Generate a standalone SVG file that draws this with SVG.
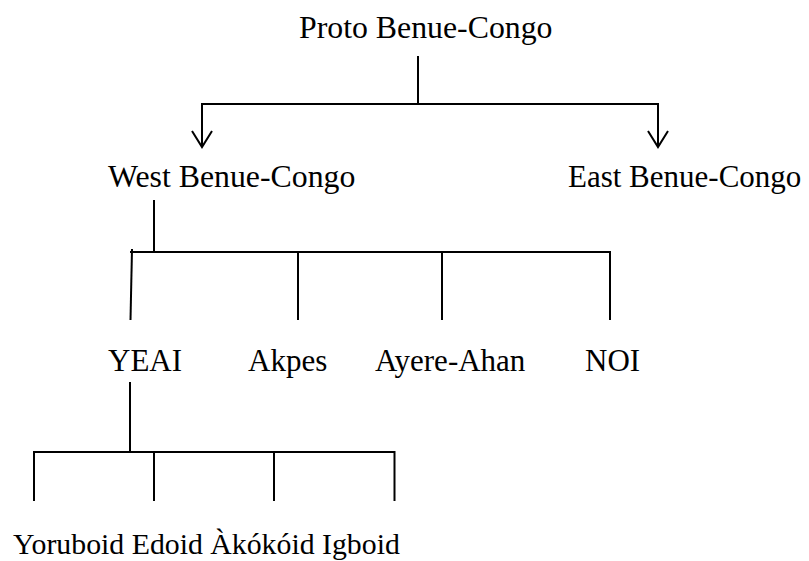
<svg xmlns="http://www.w3.org/2000/svg" width="809" height="561" viewBox="0 0 809 561">
<defs>
<style>
text{font-family:"Liberation Serif","Times New Roman",serif;font-size:31px;fill:#000}
.big{font-size:31.8px}
.sm{font-size:29.8px}
.ln{stroke:#000;stroke-width:2;fill:none}
</style>
</defs>
<rect width="809" height="561" fill="#fff"/>
<g id="connectors" class="ln">
<line x1="418" y1="56" x2="418" y2="104"/>
<line x1="201" y1="104" x2="659" y2="104"/>
<line x1="202" y1="103" x2="202" y2="147"/>
<path d="M192,131 L202,147 L212,131"/>
<line x1="658" y1="103" x2="658" y2="147"/>
<path d="M648,131 L658,147 L668,131"/>
<line x1="154" y1="200" x2="154" y2="253"/>
<line x1="130" y1="252" x2="611" y2="252"/>
<line x1="132" y1="249" x2="130.5" y2="320"/>
<line x1="298" y1="252" x2="298" y2="320"/>
<line x1="442" y1="252" x2="442" y2="320"/>
<line x1="610" y1="251" x2="610" y2="320"/>
<line x1="130" y1="382" x2="130" y2="453"/>
<line x1="33" y1="452" x2="395" y2="452"/>
<line x1="34" y1="451" x2="34" y2="501"/>
<line x1="154" y1="452" x2="154" y2="501"/>
<line x1="274" y1="452" x2="274" y2="501"/>
<line x1="394.5" y1="451" x2="394.5" y2="501"/>
</g>
<g id="proto"><text class="big" x="299" y="38">Proto Benue-Congo</text></g>
<g id="west"><text class="big" x="108" y="187">West Benue-Congo</text></g>
<g id="east"><text x="568" y="187">East Benue-Congo</text></g>
<g id="yeai"><text x="108" y="371">YEAI</text></g>
<g id="akpes"><text x="248" y="371">Akpes</text></g>
<g id="ayere"><text x="375" y="371">Ayere-Ahan</text></g>
<g id="noi"><text x="585" y="371">NOI</text></g>
<g id="bottom"><text class="sm" x="13" y="554">Yoruboid Edoid Àkókóid Igboid</text></g>
</svg>
